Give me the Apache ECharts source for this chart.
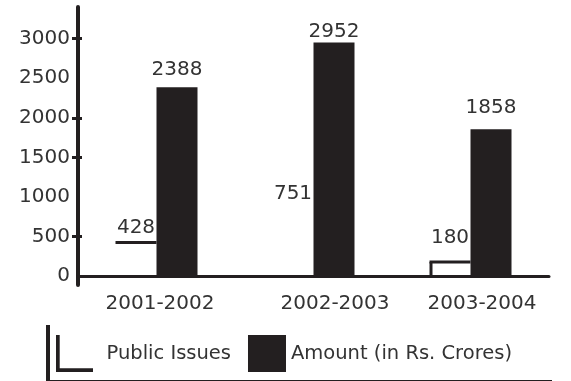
<!DOCTYPE html>
<html>
<head>
<meta charset="utf-8">
<script src="https://cdn.jsdelivr.net/npm/echarts@6/dist/echarts.min.js"></script>
<style>
  html, body { margin: 0; padding: 0; background: #fff; }
  #chart { width: 571px; height: 381px; }
</style>
</head>
<body>
<div id="chart"></div>
<script>
// Public issues vs. amount raised, by financial year
const categories = ['2001-2002', '2002-2003', '2003-2004'];
const publicIssues = [428, 751, 180];
const amount = [2388, 2952, 1858];
const yTickLabels = [0, 500, 1000, 1500, 2000, 2500, 3000];
const yTickMarks = [500, 1500, 2000, 3000];

// layout / style constants
const INK = '#231f20';
const TEXT = '#333';
const FONT = 'DejaVu Sans';
const BAR_W = 41;
const GRID_W = 471;
const outlineSides = [['top'], [], ['left', 'top']];
const issueLabelLift = [0, -8, -9];
const amountLabelLift = [-2, 4, -6];
const catShift = [7, 43, 23];

const chart = echarts.init(document.getElementById('chart'), null, { renderer: 'canvas' });

const catRich = {};
catShift.forEach((p, i) => {
  catRich['c' + i] = { padding: [0, 0, 0, p], fontFamily: FONT, fontSize: 20, color: TEXT };
});

chart.setOption({
  animation: false,
  backgroundColor: '#fff',
  grid: { left: 78, width: GRID_W, top: 7, bottom: 96, containLabel: false, outerBoundsMode: 'none' },
  xAxis: {
    type: 'category',
    data: categories,
    axisLine: { onZero: true, lineStyle: { color: INK, width: 3 } },
    axisTick: { show: false },
    axisLabel: {
      margin: 9,
      interval: 0,
      hideOverlap: false,
      formatter: (v, i) => '{c' + i + '|' + v + '}',
      rich: catRich,
      fontFamily: FONT, fontSize: 20, color: TEXT
    },
    splitLine: { show: false }
  },
  yAxis: [
    {
      type: 'value',
      min: -110,
      max: 3400,
      axisLine: { show: true, lineStyle: { color: INK, width: 4 } },
      axisTick: { show: true, length: 6, customValues: yTickMarks, lineStyle: { color: INK, width: 3 } },
      axisLabel: {
        customValues: yTickLabels, margin: 8,
        formatter: v => String(v),
        fontFamily: FONT, fontSize: 20, color: TEXT
      },
      splitLine: { show: false }
    },
    {
      // carries the inner half of the tick marks on the same vertical line
      type: 'value',
      position: 'right',
      offset: -GRID_W,
      min: -110,
      max: 3400,
      axisLine: { show: false },
      axisTick: { show: true, inside: false, length: 4, customValues: yTickMarks, lineStyle: { color: INK, width: 3 } },
      axisLabel: { show: false },
      splitLine: { show: false }
    }
  ],
  legend: {
    left: 50,
    top: 324,
    padding: [11, 44, 8, 6],
    itemWidth: 38,
    itemHeight: 37,
    itemGap: 17,
    backgroundColor: '#fff',
    shadowColor: INK,
    shadowBlur: 0,
    shadowOffsetX: -4,
    shadowOffsetY: 1,
    formatter: name => name === 'Public Issues' ? '{p|' + name + '}' : name,
    textStyle: {
      fontFamily: FONT, fontSize: 19.5, color: TEXT,
      rich: { p: { padding: [0, 0, 0, 8], fontFamily: FONT, fontSize: 19.5, color: TEXT } }
    },
    data: [
      {
        name: 'Public Issues',
        icon: 'path://M0,0 L1,0 L1,9 L10,9 L10,10 L0,10 Z',
        itemStyle: { color: INK, borderWidth: 0 }
      },
      {
        name: 'Amount (in Rs. Crores)',
        icon: 'rect',
        itemStyle: { color: INK, borderWidth: 0 }
      }
    ]
  },
  series: [
    {
      name: 'Public Issues',
      type: 'bar',
      barWidth: BAR_W,
      barGap: '0%',
      itemStyle: { color: 'rgba(255,255,255,0)' },
      label: {
        show: true, position: 'top', distance: 5,
        fontFamily: FONT, fontSize: 20, color: TEXT
      },
      data: publicIssues.map((v, i) => ({ value: v, label: { offset: [0, issueLabelLift[i]] } }))
    },
    {
      name: 'Amount (in Rs. Crores)',
      type: 'bar',
      barWidth: BAR_W,
      barGap: '0%',
      itemStyle: { color: INK },
      label: {
        show: true, position: 'top', distance: 5,
        fontFamily: FONT, fontSize: 20, color: TEXT
      },
      data: amount.map((v, i) => ({ value: v, label: { offset: [0, amountLabelLift[i]] } }))
    },
    {
      // open outline of the public-issue bars
      type: 'custom',
      silent: true,
      z: 3,
      encode: { x: 0, y: 1 },
      data: publicIssues.map((v, i) => [i, v]),
      renderItem: (params, api) => {
        const idx = params.dataIndex;
        const top = api.coord([api.value(0), api.value(1)]);
        const base = api.coord([api.value(0), 0]);
        const x2 = top[0];
        const x1 = x2 - BAR_W;
        const sides = outlineSides[idx];
        const style = { stroke: INK, lineWidth: 3, fill: null };
        const children = [];
        if (sides.indexOf('top') >= 0) {
          children.push({ type: 'line', shape: { x1: x1, y1: top[1], x2: x2, y2: top[1] }, style: style });
        }
        if (sides.indexOf('left') >= 0) {
          children.push({ type: 'line', shape: { x1: x1 + 1.5, y1: top[1], x2: x1 + 1.5, y2: base[1] }, style: style });
        }
        return { type: 'group', children: children };
      }
    }
  ]
});
</script>
</body>
</html>
